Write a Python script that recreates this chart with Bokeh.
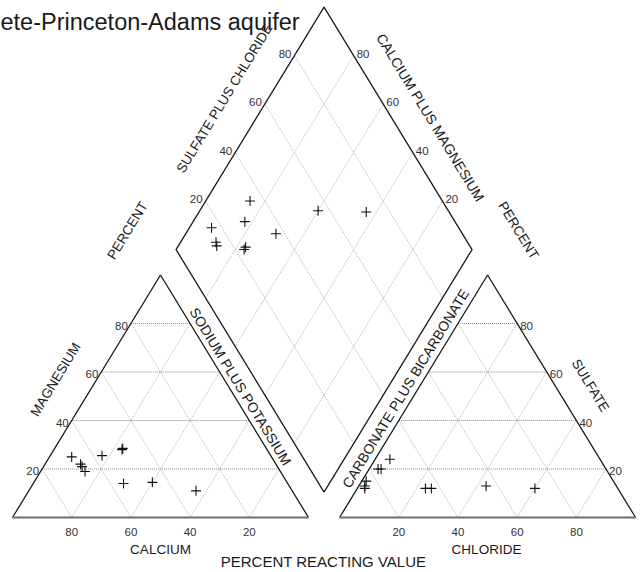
import math
from bokeh.plotting import figure
from bokeh.models import Range1d
from bokeh.core.properties import value
from bokeh.embed import file_html
from bokeh.resources import INLINE

# Percent of total milliequivalents per sample
calcium = [66, 57, 67.5, 66, 66, 49, 48.5, 55.5, 45.5, 32.5]
magnesium = [19, 25.5, 25, 22, 21, 28, 28.5, 14, 14.5, 11]
sodium_potassium = [15, 17.5, 7.5, 12, 13, 23, 23, 30.5, 40, 56.5]
bicarbonate = [65, 71, 83.5, 85, 85.5, 76, 77, 63, 44, 28]
sulfate = [12, 24, 15, 13, 12, 20, 20, 12, 13, 12]
chloride = [23, 5, 1.5, 2, 2.5, 4, 3, 25, 43, 60]

tick_values = [20, 40, 60, 80]
title_text = "ete-Princeton-Adams aquifer"

FONT = value("Liberation Sans")
S3 = math.sqrt(3) / 2
GAP = 10.5
KX, KY = 2.96, 2.80          # screen pixels per diagram unit
X0, Y0 = 12, 517             # screen position of the diagram origin
W, H = 641, 572


def cat_xy(mg, na):
    return na + mg / 2.0, mg * S3


def an_xy(so4, cl):
    return 100 + GAP + cl + so4 / 2.0, so4 * S3


BX, BY = 100 + GAP / 2.0, GAP * S3


def dia_xy(na, s):
    a = 100 - na
    return BX - a * 0.5 + s * 0.5, BY + a * S3 + s * S3


def px(dx):
    return dx / KX


def py(dy):
    return dy / KY


p = figure(width=W, height=H,
           x_range=Range1d(-X0 / KX, (W - X0) / KX),
           y_range=Range1d(-(H - Y0) / KY, Y0 / KY),
           x_axis_type=None, y_axis_type=None,
           output_backend="svg", toolbar_location=None, min_border=0)
p.grid.visible = False
p.outline_line_color = None
p.background_fill_color = "white"

# ---- grid lines ----
hx, hy, dx_, dy_ = [], [], [], []
for v in tick_values:
    # cation triangle
    a, b = cat_xy(v, 0), cat_xy(v, 100 - v)
    hx.append([a[0], b[0]]); hy.append([a[1], b[1]])
    a, b = cat_xy(0, v), cat_xy(100 - v, v)
    dx_.append([a[0], b[0]]); dy_.append([a[1], b[1]])
    a, b = cat_xy(0, 100 - v), cat_xy(100 - v, 0)
    dx_.append([a[0], b[0]]); dy_.append([a[1], b[1]])
    # anion triangle
    a, b = an_xy(v, 0), an_xy(v, 100 - v)
    hx.append([a[0], b[0]]); hy.append([a[1], b[1]])
    a, b = an_xy(0, v), an_xy(100 - v, v)
    dx_.append([a[0], b[0]]); dy_.append([a[1], b[1]])
    a, b = an_xy(0, 100 - v), an_xy(100 - v, 0)
    dx_.append([a[0], b[0]]); dy_.append([a[1], b[1]])
    # diamond
    a, b = dia_xy(v, 0), dia_xy(v, 100)
    dx_.append([a[0], b[0]]); dy_.append([a[1], b[1]])
    a, b = dia_xy(0, v), dia_xy(100, v)
    dx_.append([a[0], b[0]]); dy_.append([a[1], b[1]])

p.multi_line(dx_, dy_, line_color="#b4b4b4", line_width=1, line_dash="1 1")
p.multi_line(hx, hy, line_color="#8c8c8c", line_width=1, line_dash="1 1")

# ---- outlines ----
edge = dict(line_color="#1a1a1a", line_width=1.3)
l0, l1, l2 = cat_xy(0, 0), cat_xy(100, 0), cat_xy(0, 100)
p.line([l0[0], l1[0], l2[0]], [l0[1], l1[1], l2[1]], **edge)
p.line([l0[0], l2[0]], [l0[1], l2[1]], line_color="#707070", line_width=2.2)
r0, r1, r2 = an_xy(0, 0), an_xy(100, 0), an_xy(0, 100)
p.line([r0[0], r1[0], r2[0]], [r0[1], r1[1], r2[1]], **edge)
p.line([r0[0], r2[0]], [r0[1], r2[1]], line_color="#707070", line_width=2.2)
d = [dia_xy(100, 0), dia_xy(0, 0), dia_xy(0, 100), dia_xy(100, 100), dia_xy(100, 0)]
p.line([q[0] for q in d], [q[1] for q in d], **edge)

# ---- samples ----
cx = [cat_xy(m, n)[0] for m, n in zip(magnesium, sodium_potassium)]
cy = [cat_xy(m, n)[1] for m, n in zip(magnesium, sodium_potassium)]
ax = [an_xy(s, c)[0] for s, c in zip(sulfate, chloride)]
ay = [an_xy(s, c)[1] for s, c in zip(sulfate, chloride)]
dxs = [dia_xy(n, s + c)[0] for n, s, c in zip(sodium_potassium, sulfate, chloride)]
dys = [dia_xy(n, s + c)[1] for n, s, c in zip(sodium_potassium, sulfate, chloride)]
mk = dict(marker="cross", size=10, line_color="#111111", line_width=1.1)
p.scatter(cx, cy, **mk)
p.scatter(ax, ay, **mk)
p.scatter(dxs, dys, **mk)

# ---- tick labels ----
tick = dict(text_font=FONT, text_font_size="11.5px", text_color="#333333")
bx = [100 - v for v in tick_values] + [100 + GAP + v for v in tick_values]
p.text(bx, [-py(14)] * len(bx), [str(v) for v in tick_values] * 2,
       text_align="center", text_baseline="middle", **tick)

lx = [cat_xy(v, 0)[0] - px(3) for v in tick_values]
ly = [cat_xy(v, 0)[1] - py(2) for v in tick_values]
p.text(lx, ly, [str(v) for v in tick_values], text_align="right", text_baseline="middle", **tick)

rx = [an_xy(v, 100 - v)[0] + px(3) for v in tick_values]
ry = [an_xy(v, 100 - v)[1] - py(2) for v in tick_values]
p.text(rx, ry, [str(v) for v in tick_values], text_align="left", text_baseline="middle", **tick)

ulx = [dia_xy(0, v)[0] - px(3) for v in tick_values]
uly = [dia_xy(0, v)[1] + py(2) for v in tick_values]
p.text(ulx, uly, [str(v) for v in tick_values], text_align="right", text_baseline="middle", **tick)

urx = [dia_xy(100 - v, 100)[0] + px(3) for v in tick_values]
ury = [dia_xy(100 - v, 100)[1] + py(2) for v in tick_values]
p.text(urx, ury, [str(v) for v in tick_values], text_align="left", text_baseline="middle", **tick)

# ---- axis titles ----
ANG = math.degrees(math.atan((100 * S3 * KY) / (50 * KX)))


def label(sx, sy, txt, size, angle=0.0):
    p.text([px(sx - X0)], [py(Y0 - sy)], [txt], angle=angle, angle_units="deg",
           text_font=FONT, text_font_size=size, text_color="#1a1a1a",
           text_align="center", text_baseline="middle")


label(55, 379, "MAGNESIUM", "13.5px", ANG)
label(160, 549, "CALCIUM", "13.5px")
label(486, 549, "CHLORIDE", "13.5px")
label(323, 561, "PERCENT REACTING VALUE", "15px")
label(240, 386, "SODIUM PLUS POTASSIUM", "14px", -ANG)
label(405, 388, "CARBONATE PLUS BICARBONATE", "14px", ANG)
label(590, 385, "SULFATE", "13.5px", -ANG)
label(224, 98, "SULFATE PLUS CHLORIDE", "13.5px", ANG)
label(430, 117, "CALCIUM PLUS MAGNESIUM", "14px", -ANG)
label(127, 230, "PERCENT", "13.5px", ANG)
label(518, 230, "PERCENT", "13.5px", -ANG)

p.text([px(0 - X0)], [py(Y0 - 21)], [title_text], text_font=FONT, text_font_size="23.5px",
       text_color="#1a1a1a", text_align="left", text_baseline="alphabetic")

open("out.html", "w").write(file_html(p, INLINE))
